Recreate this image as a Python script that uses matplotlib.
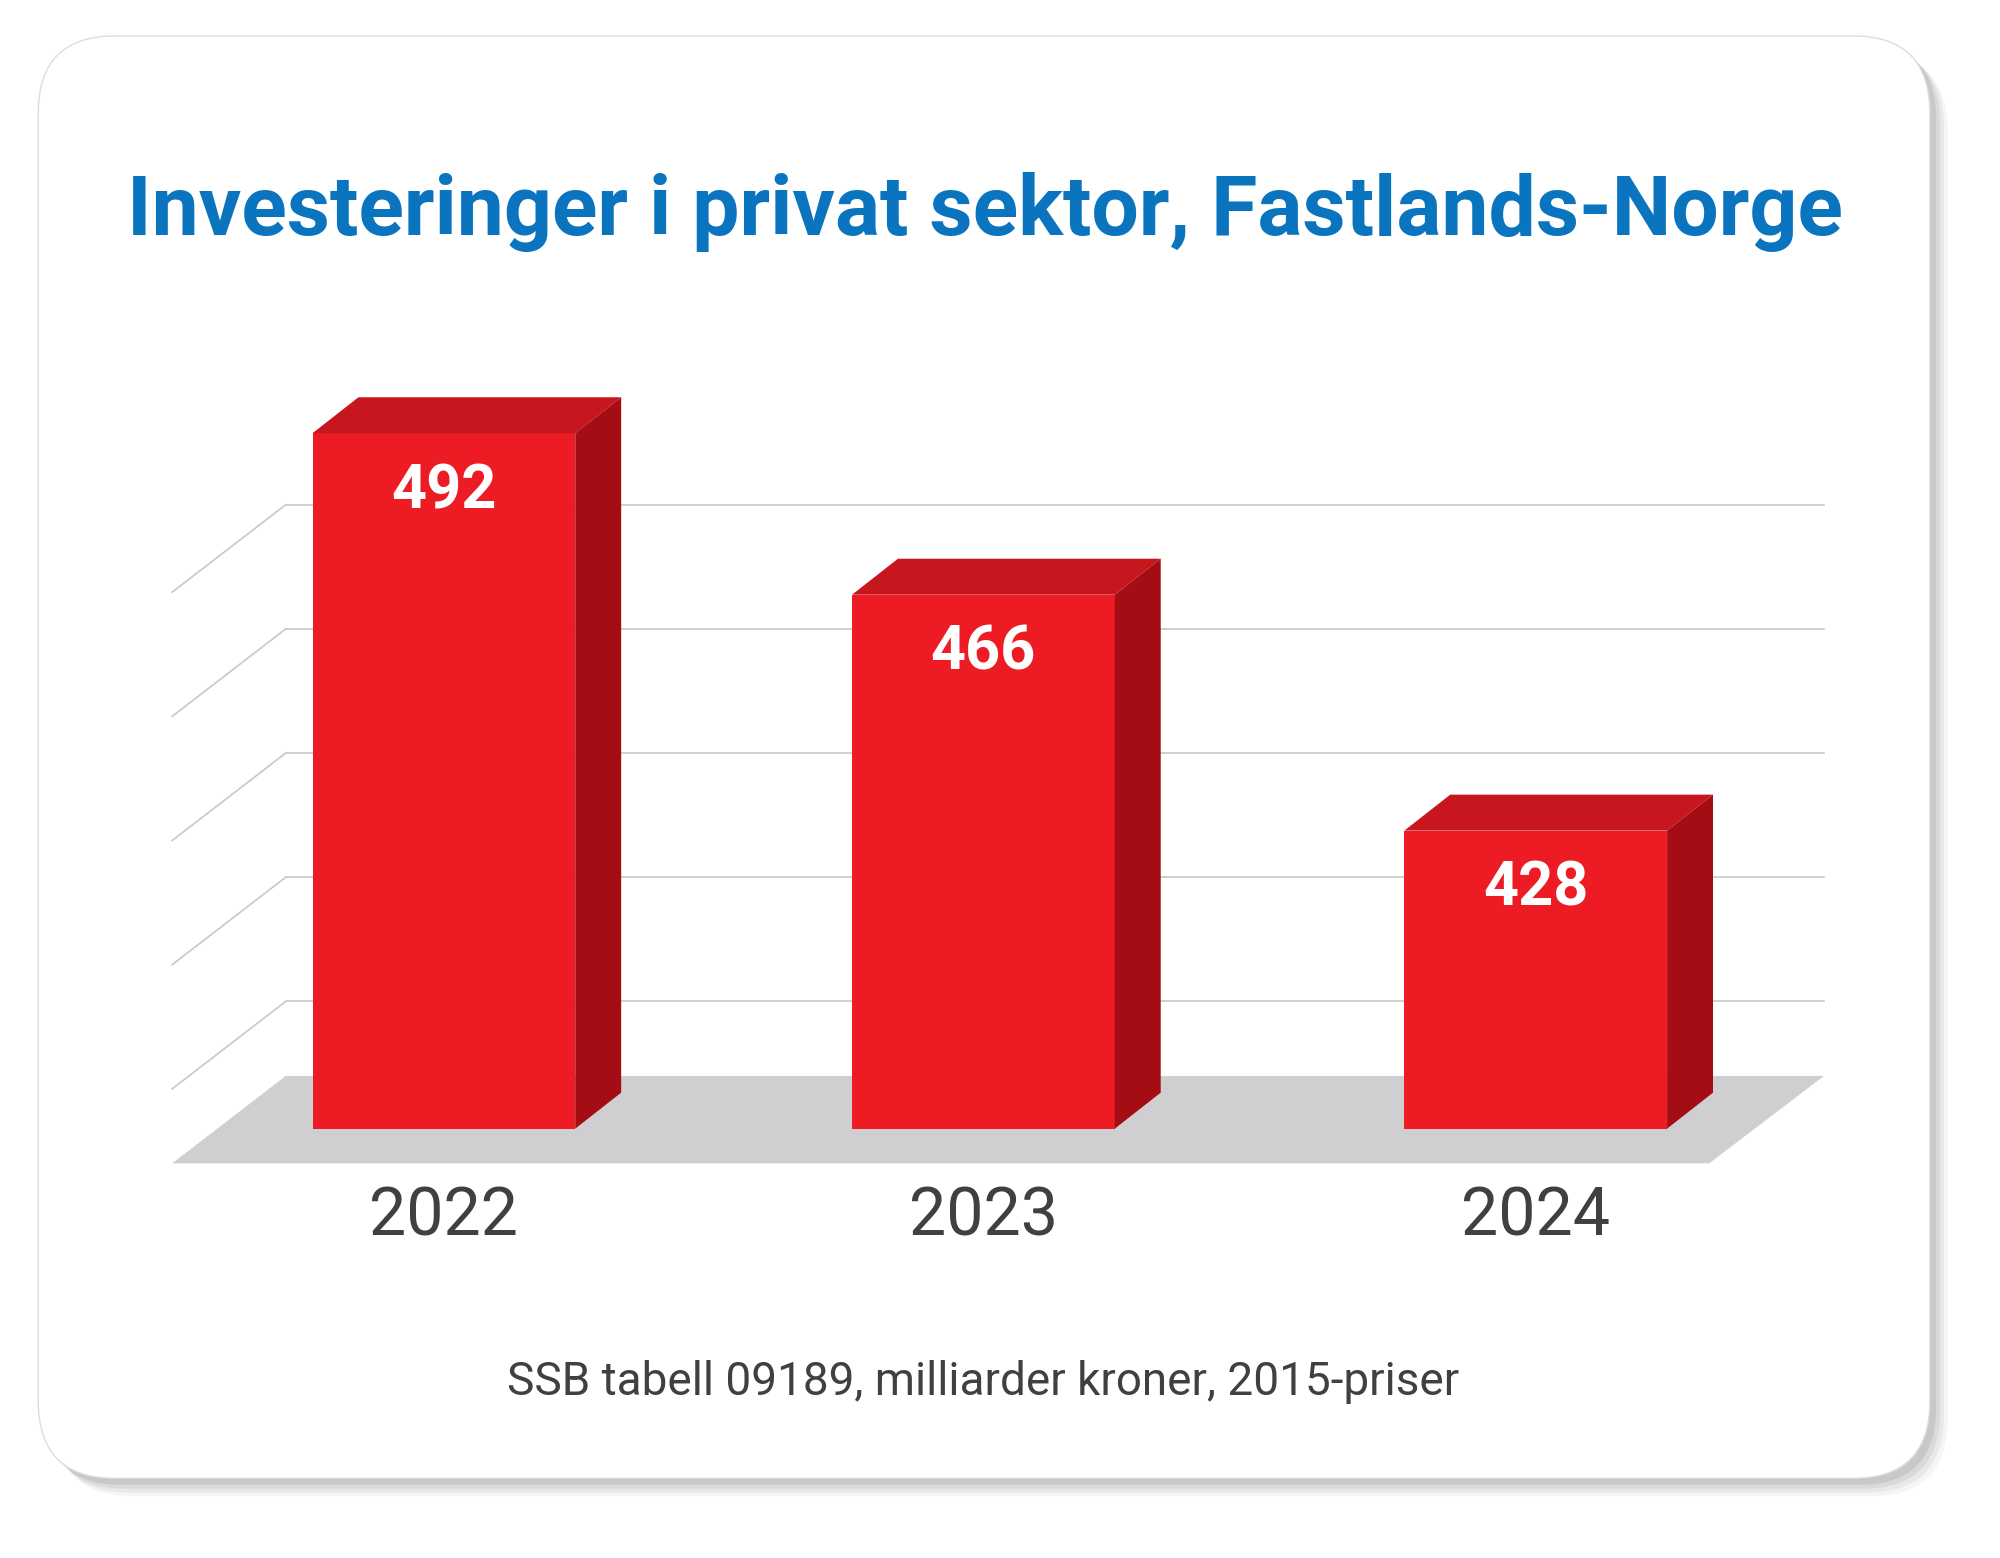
import matplotlib
matplotlib.use("Agg")
import matplotlib.pyplot as plt
from matplotlib.patches import Polygon, FancyBboxPatch

years = ["2022", "2023", "2024"]
values = [492, 466, 428]
grid_values = [400, 420, 440, 460, 480]
title = "Investeringer i privat sektor, Fastlands-Norge"
footer = "SSB tabell 09189, milliarder kroner, 2015-priser"

fig = plt.figure(figsize=(20, 15.58), dpi=100)
ax = fig.add_axes([0, 0, 1, 1])
ax.set_xlim(0, 1568); ax.set_ylim(1212, 0); ax.axis("off")
S = 0.918  # pt per display px

# card with shadow
for i, a in enumerate([0.04, 0.05, 0.06, 0.08]):
    off = 14 - i * 3
    ax.add_patch(FancyBboxPatch((30 + off, 28 + off), 1483, 1122, boxstyle="round,pad=0,rounding_size=60",
                                fc="black", ec="none", alpha=a, zorder=0))
ax.add_patch(FancyBboxPatch((30, 28), 1483, 1122, boxstyle="round,pad=0,rounding_size=60",
                            fc="white", ec="#dddddd", lw=1, zorder=1))

base_v = 380
k = 4.83
def yf(v):  # front y at bar plane
    return 878 - (v - base_v) * k
def yb(v):  # back wall y
    return 837 - (v - 388) * k

# floor
ax.add_patch(Polygon([(135, 905), (1340, 905), (1430, 837), (224, 837)], closed=True, fc="#cfcfd1", ec="none", zorder=2))
# gridlines
for g in grid_values:
    y = yb(g)
    ax.plot([224, 1430], [y, y], color="#c8c8c8", lw=1.2, zorder=2)
    ax.plot([135, 224], [y + 68, y], color="#c8c8c8", lw=1.2, zorder=2)

lefts = [245, 668, 1101]
w = 206; dx = 36; dy = 28
for x0, v, yr in zip(lefts, values, years):
    top = yf(v); bot = 878
    ax.add_patch(Polygon([(x0, bot), (x0 + w, bot), (x0 + w, top), (x0, top)], fc="#ed1c24", ec="none", zorder=3))
    ax.add_patch(Polygon([(x0, top), (x0 + w, top), (x0 + w + dx, top - dy), (x0 + dx, top - dy)], fc="#c8161e", ec="none", zorder=3))
    ax.add_patch(Polygon([(x0 + w, bot), (x0 + w, top), (x0 + w + dx, top - dy), (x0 + w + dx, bot - dy)], fc="#a50d14", ec="none", zorder=3))
    ax.text(x0 + w / 2, top + 45, str(v), ha="center", va="center", color="white", fontsize=48 * S,
            fontweight="bold", family="Roboto", zorder=4)
    ax.text(x0 + w / 2, 947, yr, ha="center", va="center", color="#404040", fontsize=52 * S, family="Roboto", zorder=4)

ax.text(772, 165, title, ha="center", va="center", color="#0a74be", fontsize=66 * S, fontweight="bold",
        family="Roboto", zorder=4)
ax.text(771, 1075, footer, ha="center", va="center", color="#404040", fontsize=36 * S, family="Roboto", zorder=4)

fig.savefig("out.png", dpi=100, facecolor="white")
